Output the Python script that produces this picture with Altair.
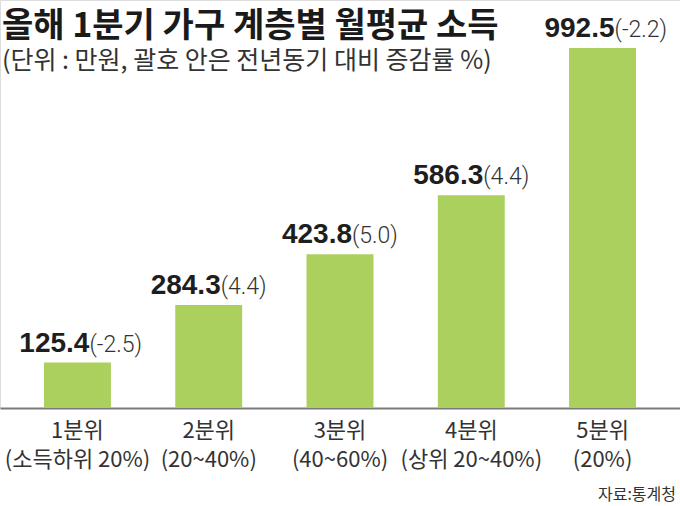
import altair as alt
import pandas as pd

categories = ["1분위|(소득하위 20%)", "2분위|(20~40%)", "3분위|(40~60%)", "4분위|(상위 20~40%)", "5분위|(20%)"]
incomes = [125.4, 284.3, 423.8, 586.3, 992.5]
changes = ["(-2.5)", "(4.4)", "(5.0)", "(4.4)", "(-2.2)"]
value_labels = ["125.4", "284.3", "423.8", "586.3", "992.5"]

title_text = "올해 1분기 가구 계층별 월평균 소득"
subtitle_text = "(단위 : 만원, 괄호 안은 전년동기 대비 증감률 %)"
source_text = ["자료:통계청"]

df = pd.DataFrame({"cat": categories, "value": incomes, "num": value_labels, "chg": changes})
src = pd.DataFrame({"src": source_text})

KR = "Noto Sans CJK KR"

x = alt.X("cat:N", sort=categories,
          scale=alt.Scale(paddingInner=0.49, paddingOuter=0.335),
          axis=alt.Axis(title=None, labelAngle=0, ticks=False, domainColor="#7a7a7a", domainWidth=2,
                        labelExpr="split(datum.label, '|')", labelFont=KR, labelFontSize=22,
                        labelColor="#333333", labelPadding=12, labelLineHeight=29, labelFontWeight="normal"))
y = alt.Y("value:Q", scale=alt.Scale(domain=[0, 1125]), axis=None)

base = alt.Chart(df)
bars = base.mark_bar(color="#abd05e").encode(x=x, y=y)
nums = base.mark_text(align="right", baseline="alphabetic", dx=12, dy=-11, font="Liberation Sans",
                      fontWeight="bold", fontSize=28, color="#1e1e1e").encode(x=x, y=y, text="num:N")
chgs = base.mark_text(align="left", baseline="alphabetic", dx=12, dy=-11, font="Roboto",
                      fontWeight=300, fontSize=23, color="#333333").encode(x=x, y=y, text="chg:N")
source = alt.Chart(src).mark_text(align="right", baseline="alphabetic", font=KR, fontSize=16,
                                  color="#333333").encode(x=alt.value(676), y=alt.value(500), text="src:N")

chart = alt.layer(bars, nums, chgs, source).properties(
    width=680, height=408,
    autosize=alt.AutoSizeParams(type="none"),
    padding={"left": 0, "top": 0, "right": 0, "bottom": 98},
    title=alt.TitleParams(text=title_text, subtitle=subtitle_text, anchor="start", frame="group",
                          font=KR, fontSize=34, fontWeight="bold", color="#1a1a1a",
                          subtitleFont=KR, subtitleFontSize=25, subtitleColor="#333333",
                          subtitlePadding=5, offset=-74, dx=2)
).configure_view(stroke=None).configure(background="white")

chart.save("out.html", embed_options={"renderer": "svg", "actions": False})
